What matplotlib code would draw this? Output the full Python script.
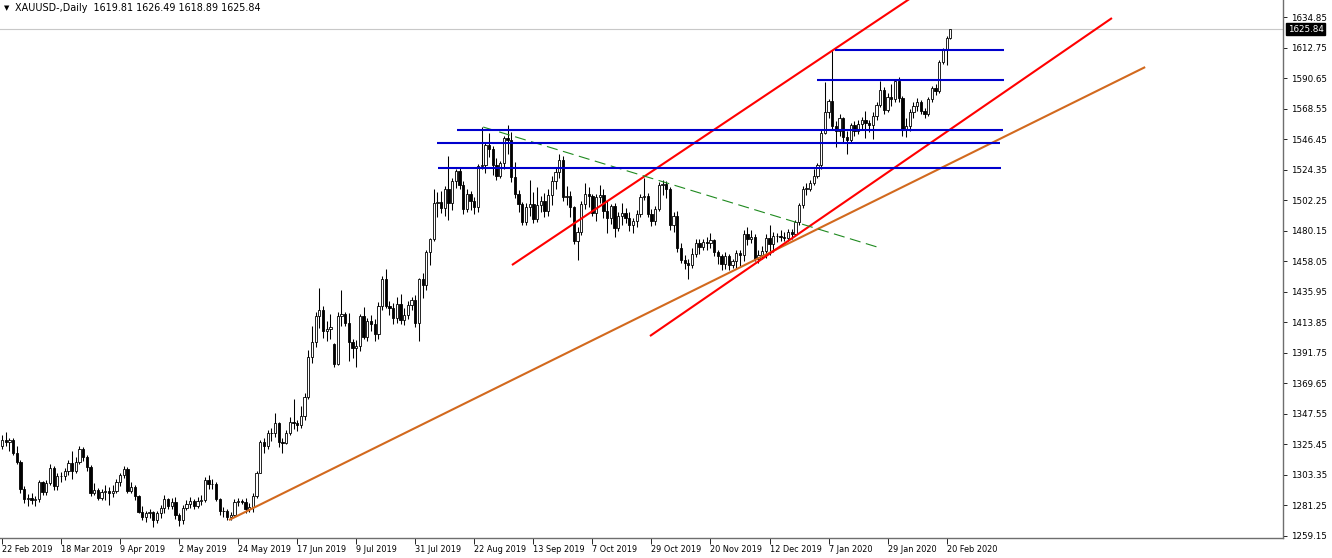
import matplotlib
matplotlib.use('Agg')
import matplotlib.pyplot as plt
from matplotlib.patches import Rectangle

# ---------------- data (daily bars, 22 Feb 2019 .. 21 Feb 2020) ----------------
opens = [1324.5, 1328.5, 1327.0, 1328.5, 1319.5, 1313.0, 1293.5, 1286.0, 1287.0, 1285.5,
         1286.0, 1298.5, 1291.0, 1297.5, 1308.5, 1295.0, 1302.5, 1302.5, 1306.0, 1312.0,
         1306.5, 1313.0, 1322.0, 1316.0, 1309.0, 1290.5, 1292.5, 1286.5, 1291.0, 1291.5,
         1290.5, 1292.0, 1298.0, 1303.5, 1307.5, 1292.0, 1294.5, 1288.0, 1276.5, 1273.0,
         1275.5, 1276.5, 1270.5, 1275.5, 1279.5, 1286.0, 1280.5, 1284.0, 1274.0, 1270.5,
         1279.5, 1282.0, 1284.5, 1281.0, 1284.5, 1285.5, 1300.0, 1297.0, 1296.5, 1286.0,
         1277.0, 1277.5, 1273.0, 1274.0, 1283.5, 1284.5, 1284.0, 1278.5, 1280.0, 1288.0,
         1305.0, 1327.0, 1324.5, 1333.5, 1334.0, 1341.0, 1327.5, 1326.5, 1334.0, 1342.0,
         1341.0, 1339.5, 1346.0, 1360.0, 1389.0, 1399.5, 1418.5, 1422.5, 1407.5, 1409.0,
         1398.0, 1384.0, 1418.5, 1419.5, 1413.5, 1399.5, 1395.0, 1397.0, 1418.5, 1403.5,
         1414.5, 1412.5, 1405.5, 1426.0, 1445.5, 1426.0, 1424.0, 1417.0, 1427.0, 1415.5,
         1419.0, 1426.5, 1430.0, 1413.0, 1445.0, 1441.0, 1464.5, 1474.5, 1500.0, 1501.0,
         1496.5, 1510.5, 1500.5, 1516.0, 1523.5, 1513.5, 1496.0, 1507.0, 1502.0, 1497.5,
         1527.0, 1527.5, 1542.0, 1539.5, 1527.5, 1520.0, 1529.0, 1547.5, 1546.0, 1519.0,
         1506.5, 1499.5, 1486.5, 1497.0, 1499.5, 1488.5, 1498.5, 1501.5, 1494.5, 1506.0,
         1516.0, 1522.5, 1531.5, 1504.5, 1505.5, 1497.0, 1473.0, 1479.5, 1499.5, 1507.0,
         1505.0, 1493.0, 1504.5, 1506.0, 1494.5, 1489.0, 1498.0, 1482.0, 1490.5, 1493.0,
         1489.5, 1484.0, 1487.5, 1492.0, 1504.5, 1505.0, 1492.5, 1487.5, 1496.0, 1513.0,
         1514.0, 1510.5, 1484.0, 1491.0, 1467.5, 1459.0, 1456.5, 1455.5, 1463.5, 1471.0,
         1468.0, 1472.0, 1471.0, 1473.5, 1464.5, 1462.0, 1456.0, 1462.0, 1455.0, 1458.5,
         1464.0, 1462.5, 1477.5, 1474.5, 1475.5, 1460.0, 1462.5, 1465.5, 1475.0, 1470.5,
         1476.0, 1476.5, 1475.5, 1475.0, 1479.0, 1477.5, 1486.5, 1498.5, 1510.5, 1510.5,
         1514.5, 1520.0, 1527.5, 1551.0, 1566.0, 1574.0, 1556.0, 1552.0, 1562.0, 1548.0,
         1545.5, 1557.0, 1552.0, 1557.5, 1560.0, 1558.0, 1556.5, 1563.0, 1571.0, 1582.0,
         1567.5, 1577.0, 1575.5, 1588.5, 1576.5, 1553.5, 1556.0, 1566.0, 1570.5, 1573.0,
         1566.5, 1564.5, 1575.5, 1583.5, 1581.5, 1602.0, 1611.0, 1619.81]
highs = [1332.0, 1334.5, 1330.0, 1330.0, 1324.5, 1314.5, 1295.5, 1289.5, 1290.0, 1288.0,
         1300.0, 1299.0, 1299.5, 1311.0, 1310.0, 1304.5, 1305.5, 1308.5, 1314.0, 1320.5,
         1316.5, 1324.5, 1323.5, 1318.0, 1310.5, 1297.5, 1294.0, 1293.5, 1296.0, 1294.5,
         1296.0, 1300.5, 1305.0, 1310.0, 1309.0, 1298.0, 1296.0, 1289.0, 1280.5, 1277.0,
         1279.0, 1277.5, 1277.5, 1281.5, 1288.5, 1287.0, 1286.5, 1287.5, 1276.0, 1281.5,
         1285.5, 1287.5, 1286.0, 1287.5, 1289.0, 1302.0, 1303.5, 1300.5, 1298.0, 1287.0,
         1280.0, 1278.5, 1276.5, 1286.0, 1287.0, 1286.0, 1286.5, 1283.0, 1290.0, 1306.5,
         1328.5, 1330.0, 1336.0, 1337.5, 1348.5, 1342.0, 1330.0, 1336.0, 1345.0, 1358.5,
         1343.0, 1353.0, 1362.5, 1393.5, 1411.0, 1421.0, 1439.0, 1425.5, 1414.5, 1420.0,
         1399.0, 1421.0, 1437.5, 1421.5, 1420.5, 1401.5, 1401.0, 1420.0, 1425.0, 1417.0,
         1419.0, 1416.5, 1428.5, 1447.5, 1452.5, 1429.5, 1427.5, 1432.0, 1434.5, 1424.0,
         1429.5, 1432.5, 1433.5, 1446.0, 1449.5, 1466.5, 1475.0, 1510.0, 1508.0, 1509.0,
         1512.5, 1534.5, 1518.0, 1524.5, 1526.0, 1516.0, 1510.0, 1509.0, 1504.5, 1528.5,
         1555.0, 1543.5, 1551.0, 1541.5, 1533.0, 1530.5, 1549.0, 1557.0, 1551.5, 1530.0,
         1509.5, 1501.0, 1500.0, 1516.5, 1508.0, 1512.0, 1505.0, 1507.5, 1510.0, 1519.5,
         1526.0, 1535.5, 1534.0, 1512.5, 1509.0, 1498.0, 1482.5, 1502.0, 1515.0, 1511.5,
         1507.0, 1507.0, 1513.5, 1510.0, 1502.0, 1499.5, 1500.0, 1494.0, 1500.5, 1496.5,
         1494.0, 1489.5, 1495.0, 1506.5, 1518.0, 1507.5, 1495.5, 1498.0, 1515.5, 1517.0,
         1516.0, 1511.5, 1493.5, 1494.5, 1471.5, 1462.5, 1460.0, 1467.5, 1474.0, 1474.0,
         1474.5, 1475.5, 1478.5, 1474.5, 1466.5, 1463.5, 1464.5, 1463.0, 1460.0, 1466.0,
         1466.5, 1480.5, 1483.0, 1480.5, 1478.0, 1466.5, 1469.0, 1477.5, 1484.5, 1479.5,
         1478.5, 1481.0, 1479.0, 1481.5, 1481.5, 1488.0, 1500.0, 1512.5, 1514.5, 1516.5,
         1524.5, 1529.5, 1554.0, 1588.0, 1575.5, 1611.0, 1559.5, 1564.5, 1562.5, 1552.5,
         1558.0, 1559.5, 1560.5, 1562.5, 1567.0, 1560.0, 1566.0, 1573.5, 1588.5, 1584.0,
         1580.0, 1586.5, 1590.0, 1591.5, 1578.0, 1561.5, 1568.5, 1573.5, 1576.0, 1574.5,
         1569.0, 1577.0, 1585.0, 1586.5, 1604.0, 1612.5, 1621.0, 1626.49]
lows = [1322.0, 1324.0, 1320.5, 1317.5, 1311.5, 1290.5, 1283.0, 1281.0, 1282.5, 1280.5,
        1283.5, 1288.5, 1289.0, 1296.0, 1292.5, 1292.5, 1298.5, 1300.0, 1303.0, 1300.5,
        1305.0, 1311.5, 1313.5, 1306.0, 1288.0, 1288.5, 1285.0, 1285.0, 1285.5, 1281.5,
        1287.5, 1290.5, 1295.5, 1301.0, 1290.5, 1290.5, 1285.5, 1275.5, 1270.5, 1269.5,
        1272.5, 1266.0, 1268.5, 1272.0, 1276.0, 1278.5, 1278.5, 1271.5, 1266.5, 1268.0,
        1278.0, 1279.5, 1279.0, 1279.5, 1281.5, 1284.0, 1293.5, 1293.0, 1284.5, 1274.5,
        1273.0, 1270.5, 1271.0, 1273.0, 1280.5, 1282.0, 1276.0, 1276.5, 1276.5, 1287.0,
        1304.5, 1319.5, 1322.0, 1328.0, 1330.5, 1323.5, 1319.5, 1325.5, 1332.5, 1336.5,
        1335.0, 1337.5, 1343.0, 1358.0, 1384.5, 1396.0, 1410.0, 1402.5, 1400.0, 1401.5,
        1381.5, 1383.0, 1411.5, 1411.0, 1386.0, 1388.0, 1381.5, 1393.0, 1401.5, 1400.0,
        1407.5, 1400.5, 1401.5, 1423.0, 1424.5, 1419.0, 1412.5, 1413.5, 1412.5, 1412.0,
        1416.0, 1423.0, 1410.5, 1400.5, 1431.5, 1437.5, 1455.5, 1472.5, 1490.0, 1493.0,
        1491.0, 1488.0, 1495.0, 1511.0, 1510.0, 1492.5, 1494.0, 1495.0, 1492.0, 1494.0,
        1525.0, 1522.0, 1533.5, 1520.5, 1516.5, 1518.0, 1524.5, 1535.5, 1515.5, 1503.5,
        1493.5, 1484.5, 1484.0, 1490.5, 1486.0, 1486.5, 1494.0, 1490.0, 1491.0, 1498.5,
        1510.0, 1518.5, 1502.0, 1499.0, 1490.0, 1470.5, 1459.0, 1477.0, 1496.0, 1497.5,
        1490.5, 1487.5, 1500.5, 1489.5, 1478.5, 1485.0, 1475.5, 1480.0, 1484.5, 1485.5,
        1480.0, 1478.5, 1483.0, 1490.0, 1502.5, 1490.0, 1483.5, 1484.0, 1494.5, 1506.0,
        1503.5, 1480.5, 1479.5, 1464.5, 1456.5, 1452.5, 1445.5, 1453.5, 1461.0, 1463.5,
        1466.0, 1466.5, 1467.5, 1462.0, 1456.0, 1451.5, 1452.5, 1451.5, 1453.0, 1453.5,
        1454.5, 1458.0, 1470.0, 1471.5, 1458.5, 1456.5, 1459.5, 1460.5, 1462.5, 1464.5,
        1472.0, 1472.5, 1473.0, 1472.5, 1474.5, 1476.5, 1484.5, 1496.5, 1506.0, 1509.0,
        1513.0, 1518.0, 1524.5, 1550.0, 1562.0, 1553.0, 1541.0, 1549.0, 1544.5, 1536.0,
        1543.5, 1548.5, 1550.5, 1553.5, 1547.5, 1551.5, 1546.5, 1560.0, 1570.0, 1564.5,
        1566.0, 1570.5, 1573.5, 1573.0, 1548.5, 1548.0, 1552.5, 1562.0, 1567.0, 1564.5,
        1561.5, 1563.0, 1573.0, 1578.5, 1580.0, 1600.5, 1600.0, 1618.89]
closes = [1328.5, 1327.0, 1328.5, 1319.5, 1313.0, 1293.5, 1286.0, 1287.0, 1285.5, 1286.0,
          1298.5, 1291.0, 1297.5, 1308.5, 1295.0, 1302.5, 1302.5, 1306.0, 1312.0, 1306.5,
          1313.0, 1322.0, 1316.0, 1309.0, 1290.5, 1292.5, 1286.5, 1291.0, 1291.5, 1290.5,
          1292.0, 1298.0, 1303.5, 1307.5, 1292.0, 1294.5, 1288.0, 1276.5, 1273.0, 1275.5,
          1276.5, 1270.5, 1275.5, 1279.5, 1286.0, 1280.5, 1284.0, 1274.0, 1270.5, 1279.5,
          1282.0, 1284.5, 1281.0, 1284.5, 1285.5, 1300.0, 1297.0, 1296.5, 1286.0, 1277.0,
          1277.5, 1273.0, 1274.0, 1283.5, 1284.5, 1284.0, 1278.5, 1280.0, 1288.0, 1305.0,
          1327.0, 1324.5, 1333.5, 1334.0, 1341.0, 1327.5, 1326.5, 1334.0, 1342.0, 1341.0,
          1339.5, 1346.0, 1360.0, 1389.0, 1399.5, 1418.5, 1422.5, 1407.5, 1409.0, 1410.5,
          1384.0, 1418.5, 1419.5, 1413.5, 1399.5, 1395.0, 1397.0, 1418.5, 1403.5, 1414.5,
          1412.5, 1405.5, 1426.0, 1445.5, 1426.0, 1424.0, 1417.0, 1427.0, 1415.5, 1419.0,
          1426.5, 1430.0, 1413.0, 1445.0, 1441.0, 1464.5, 1474.5, 1500.0, 1501.0, 1496.5,
          1510.5, 1500.5, 1516.0, 1523.5, 1513.5, 1496.0, 1507.0, 1502.0, 1497.5, 1527.0,
          1527.5, 1542.0, 1539.5, 1527.5, 1520.0, 1529.0, 1547.5, 1546.0, 1519.0, 1506.5,
          1499.5, 1486.5, 1497.0, 1499.5, 1488.5, 1498.5, 1501.5, 1494.5, 1506.0, 1516.0,
          1522.5, 1531.5, 1504.5, 1505.5, 1497.0, 1473.0, 1479.5, 1499.5, 1507.0, 1505.0,
          1493.0, 1504.5, 1506.0, 1494.5, 1489.0, 1498.0, 1482.0, 1490.5, 1493.0, 1489.5,
          1484.0, 1487.5, 1492.0, 1504.5, 1505.0, 1492.5, 1487.5, 1496.0, 1513.0, 1514.0,
          1510.5, 1484.0, 1491.0, 1467.5, 1459.0, 1456.5, 1455.5, 1463.5, 1471.0, 1468.0,
          1472.0, 1471.0, 1473.5, 1464.5, 1462.0, 1456.0, 1462.0, 1455.0, 1458.5, 1464.0,
          1462.5, 1477.5, 1474.5, 1475.5, 1460.0, 1462.5, 1465.5, 1475.0, 1470.5, 1476.0,
          1476.5, 1475.5, 1475.0, 1479.0, 1477.5, 1486.5, 1498.5, 1510.5, 1510.5, 1514.5,
          1520.0, 1527.5, 1551.0, 1566.0, 1574.0, 1556.0, 1552.0, 1562.0, 1548.0, 1545.5,
          1557.0, 1552.0, 1557.5, 1560.0, 1558.0, 1556.5, 1563.0, 1571.0, 1582.0, 1567.5,
          1577.0, 1575.5, 1588.5, 1576.5, 1553.5, 1556.0, 1566.0, 1570.5, 1573.0, 1566.5,
          1564.5, 1575.5, 1583.5, 1581.5, 1602.0, 1611.0, 1619.5, 1625.84]

x_tick_labels = ['22 Feb 2019', '18 Mar 2019', '9 Apr 2019', '2 May 2019', '24 May 2019',
                 '17 Jun 2019', '9 Jul 2019', '31 Jul 2019', '22 Aug 2019', '13 Sep 2019',
                 '7 Oct 2019', '29 Oct 2019', '20 Nov 2019', '12 Dec 2019', '7 Jan 2020',
                 '29 Jan 2020', '20 Feb 2020']
y_tick_values = [1634.85, 1612.75, 1590.65, 1568.55, 1546.45, 1524.35, 1502.25, 1480.15,
                 1458.05, 1435.95, 1413.85, 1391.75, 1369.65, 1347.55, 1325.45, 1303.35,
                 1281.25, 1259.15]

# drawn analysis objects (bar index, price)
orange_trend = [(61.5, 1270.7), (309.8, 1598.6)]
red_channel_upper = [(138.2, 1455.3), (250.0, 1655.2)]
red_channel_lower = [(175.6, 1403.9), (300.8, 1634.1)]
green_dashed = [(130.4, 1555.2), (237.1, 1468.4)]
blue_levels = [(1611.0, 225.7, 271.5), (1589.2, 220.9, 271.5), (1553.0, 123.3, 271.3),
               (1543.6, 117.9, 270.5), (1525.5, 118.2, 270.7)]
last_price = 1625.84
header = "XAUUSD-,Daily  1619.81 1626.49 1618.89 1625.84"

# ---------------- figure ----------------
W, H = 1332, 558
fig = plt.figure(figsize=(W / 100, H / 100), dpi=100)
fig.patch.set_facecolor('white')
ax = fig.add_axes([0, 20 / H, 1283 / W, 538 / H])
ax.set_facecolor('white')

n = len(closes)
bw = 0.62
for i in range(n):
    o, h, l, c = opens[i], highs[i], lows[i], closes[i]
    ax.plot([i, i], [l, h], color='black', lw=0.75, zorder=2, solid_capstyle='butt')
    bottom = min(o, c)
    height = max(abs(c - o), 0.35)
    if c >= o:
        ax.add_patch(Rectangle((i - bw / 2, bottom), bw, height, facecolor='white',
                               edgecolor='black', lw=0.6, zorder=3))
    else:
        ax.add_patch(Rectangle((i - bw / 2, bottom), bw, height, facecolor='black',
                               edgecolor='black', lw=0.6, zorder=3))

# current price line
ax.axhline(last_price, color='#c8c8c8', lw=0.8, zorder=1)

# analysis objects
ax.plot(*zip(*orange_trend), color='#d2691e', lw=1.5, zorder=5, solid_capstyle='butt')
ax.plot(*zip(*red_channel_upper), color='#ff0000', lw=1.5, zorder=5, solid_capstyle='butt')
ax.plot(*zip(*red_channel_lower), color='#ff0000', lw=1.5, zorder=5, solid_capstyle='butt')
ax.plot(*zip(*green_dashed), color='#1f8a1f', lw=0.8, zorder=5, dashes=(10, 5))
for price, x0, x1 in blue_levels:
    ax.plot([x0, x1], [price, price], color='#0000cd', lw=1.5, zorder=5, solid_capstyle='butt')

ax.set_xlim(-0.54, 347.15)
ax.set_ylim(1257.69, 1647.16)

# spines
for s in ['top', 'left']:
    ax.spines[s].set_visible(False)
for s in ['right', 'bottom']:
    ax.spines[s].set_color('#6e6e6e')
    ax.spines[s].set_linewidth(1.0)

# y axis on right
ax.yaxis.tick_right()
ax.set_yticks(y_tick_values)
ax.set_yticklabels([f'{v:.2f}' for v in y_tick_values])
ax.tick_params(axis='y', direction='out', length=3, width=0.6, pad=2.5, labelsize=6.3,
               colors='black')

# x axis
ax.set_xticks([16 * k for k in range(len(x_tick_labels))])
ax.set_xticklabels(x_tick_labels, ha='left')
ax.tick_params(axis='x', direction='out', length=4, width=0.6, pad=1, labelsize=5.9,
               colors='black')

# last price box
fig.text(1288 / W, 1 - 29.4 / H, f'{last_price:.2f}', color='white', fontsize=6.3,
         va='center', ha='left',
         bbox=dict(boxstyle='square,pad=0.18', facecolor='black', edgecolor='black'))

# header
fig.text(4 / W, 1 - 8 / H, '\u25BC', fontsize=5, va='center', ha='left', color='black')
fig.text(15 / W, 1 - 8 / H, header, fontsize=6.9, va='center', ha='left', color='black')

fig.savefig('out.png', dpi=100, facecolor='white')
